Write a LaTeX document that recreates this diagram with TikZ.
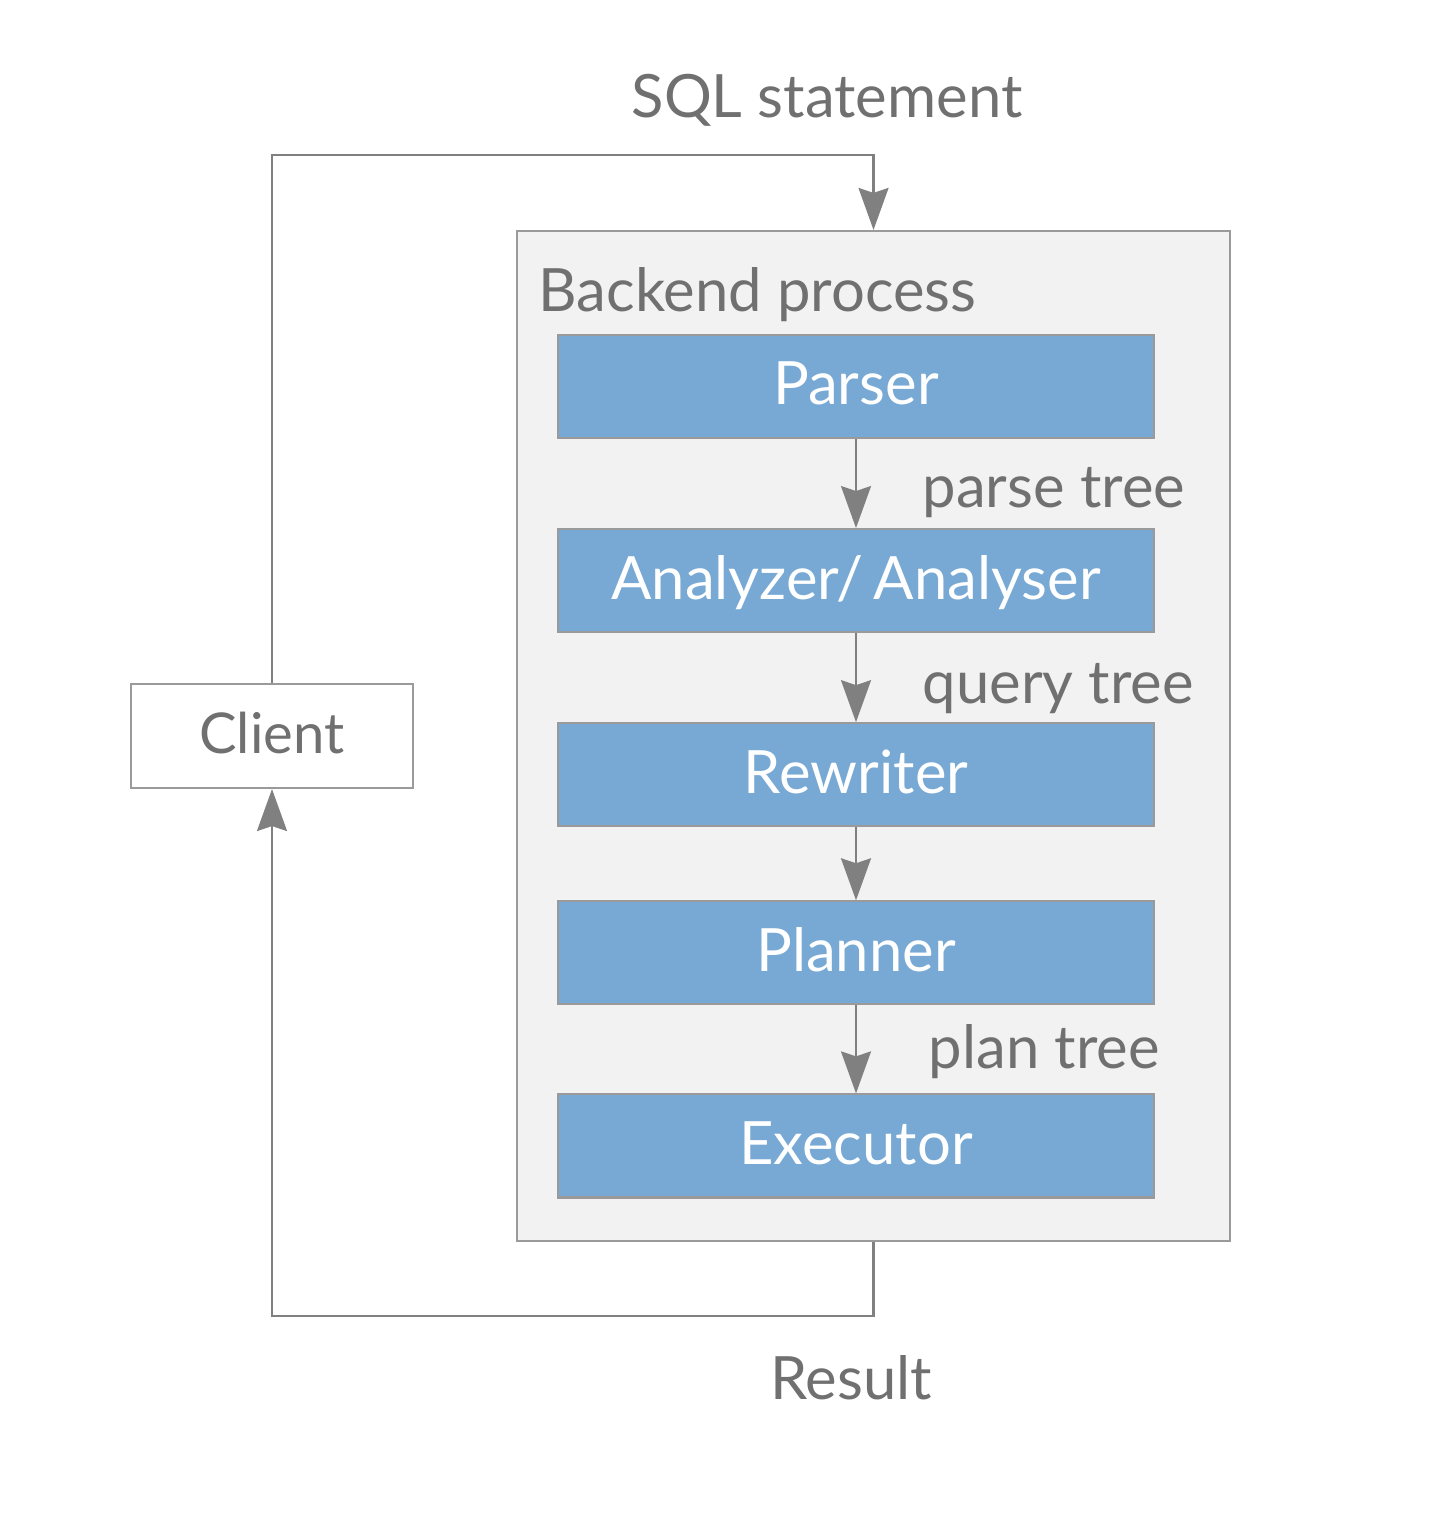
\documentclass[tikz,border=0pt]{standalone}
\usepackage{fontspec}
\setmainfont{Lato}
\usetikzlibrary{positioning,arrows.meta}
\definecolor{boxblue}{HTML}{77A9D4}
\definecolor{panelgray}{HTML}{F2F2F2}
\definecolor{linegray}{HTML}{9A9A9A}
\definecolor{textgray}{HTML}{707070}
\definecolor{tipgray}{HTML}{808080}
\begin{document}
\begin{tikzpicture}[
  font=\fontsize{17}{20}\selectfont,
  stage/.style={draw=linegray, fill=boxblue, text=white, line width=0.6pt,
    minimum width=5.96cm, minimum height=1.03cm, inner sep=0pt, text depth=0.18em},
  panel/.style={draw=linegray, fill=panelgray, line width=0.6pt,
    minimum width=7.13cm, minimum height=10.10cm, inner sep=0pt},
  clientbox/.style={draw=linegray, fill=white, text=textgray, line width=0.6pt,
    minimum width=2.82cm, minimum height=1.04cm, inner sep=0pt, text depth=0.18em},
  note/.style={text=textgray, inner sep=0pt},
  flow/.style={draw=tipgray, line width=0.6pt,
    arrows={-Stealth[length=0.42cm, width=0.30cm, inset=0.05cm, fill=tipgray]}}
]
\useasboundingbox (0,0) rectangle (14.30,-15.28);
\node (backend) [panel] at (8.735,-7.36) {};
\node (client) [clientbox] at (2.72,-7.36) {\fontsize{16}{20}\selectfont Client};
\node (parser) [stage] at (8.56,-3.865) {Parser};
\node (analyzer) [stage, below=0.89cm of parser] {Analyzer/\,Analyser};
\node (rewriter) [stage, below=0.89cm of analyzer] {Rewriter};
\node (planner) [stage, below=0.73cm of rewriter] {Planner};
\node (executor) [stage, below=0.88cm of planner] {Executor};
\node (title) [note, anchor=base west] at (5.38,-3.12) {Backend process};
\node (sql) [note] at (8.27,-1.00) {SQL statement};
\node (result) [note] at (8.51,-13.78) {Result};
\node (ptree) [note, anchor=base west] at (9.22,-5.08) {parse tree};
\node (qtree) [note, anchor=base west] at (9.22,-7.03) {query tree};
\node (pltree) [note, anchor=base west] at (9.28,-10.68) {plan tree};
\draw[flow] (client.north) |- ([yshift=0.75cm]backend.north) -- (backend.north);
\draw[flow] (backend.south) -- ++(0,-0.74) -| (client.south);
\draw[flow] (parser) -- (analyzer);
\draw[flow] (analyzer) -- (rewriter);
\draw[flow] (rewriter) -- (planner);
\draw[flow] (planner) -- (executor);
\end{tikzpicture}
\end{document}
